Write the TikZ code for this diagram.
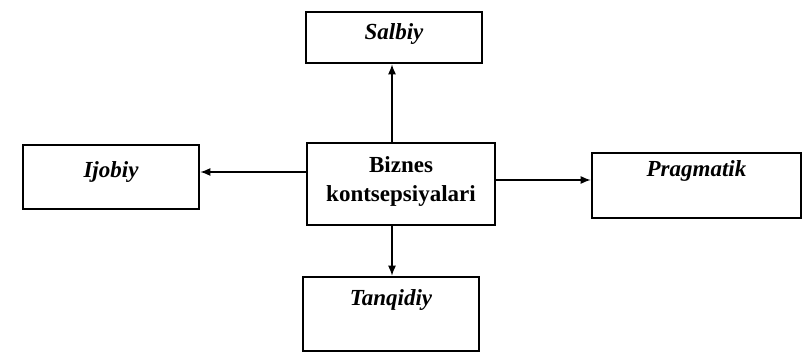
\documentclass[tikz,border=0pt]{standalone}
\usepackage{fontspec}
\setmainfont{Liberation Serif}
\usetikzlibrary{arrows.meta}
\begin{document}
\begin{tikzpicture}[x=1pt,y=-1pt,
  box/.style={draw,line width=2.6pt,inner sep=0pt,font=\fontsize{23}{30}\selectfont\bfseries\itshape,text height=16pt},
  cbox/.style={draw,line width=2.6pt,inner sep=0pt,font=\fontsize{23}{30}\selectfont\bfseries,align=center},
  arr/.style={line width=1.4pt,-{Latex[length=10pt,width=8pt]}}]
\useasboundingbox (0,0) rectangle (810,353);
\node[cbox,minimum width=188pt,minimum height=82pt] (c) at (401,184) {Biznes\\[-1pt]kontsepsiyalari\rule[-10pt]{0pt}{1pt}};
\node[box,minimum width=176pt,minimum height=51pt,text depth=12pt] (s) at (394,37.5) {Salbiy};
\node[box,minimum width=176pt,minimum height=64pt,text depth=15pt] (i) at (111,177) {Ijobiy};
\node[box,minimum width=209pt,minimum height=65pt,text depth=35pt] (p) at (696.5,185.5) {Pragmatik};
\node[box,minimum width=176pt,minimum height=74pt,text depth=33pt] (t) at (391,314) {Tanqidiy};
\draw[arr] ([xshift=-9pt]c.north) -- ([xshift=-9pt]c.north |- s.south);
\draw[arr] ([xshift=-9pt]c.south) -- ([xshift=-9pt]c.south |- t.north);
\draw[arr] ([yshift=12pt]c.west) -- ([yshift=12pt]c.west -| i.east);
\draw[arr] ([yshift=4pt]c.east) -- ([yshift=4pt]c.east -| p.west);
\end{tikzpicture}
\end{document}
